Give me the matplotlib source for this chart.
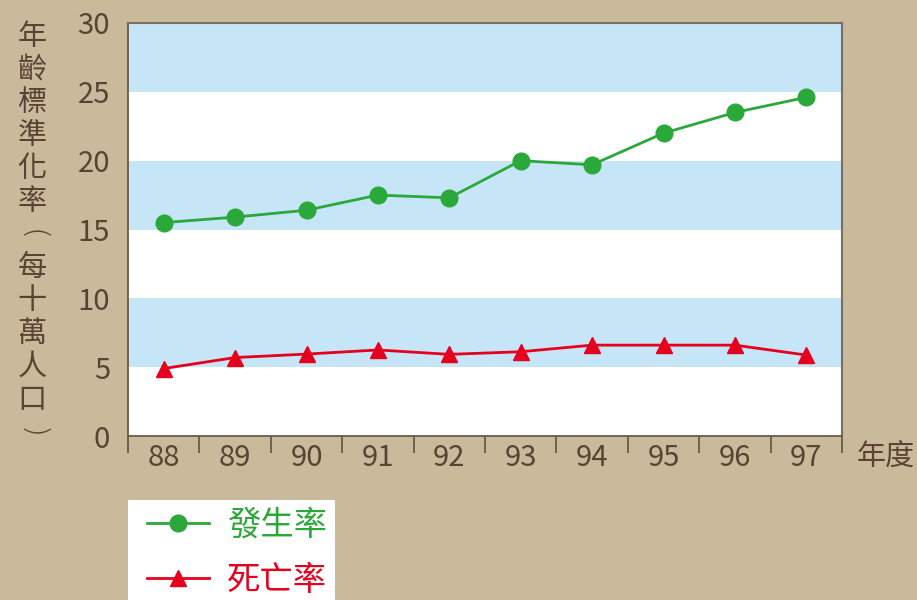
import numpy as np
import matplotlib.pyplot as plt
from matplotlib.ticker import FixedLocator
from matplotlib.patches import Rectangle

plt.rcParams['font.family'] = ['Noto Sans CJK TC', 'DejaVu Sans']

years = ['88', '89', '90', '91', '92', '93', '94', '95', '96', '97']
incidence = [15.5, 15.9, 16.4, 17.5, 17.3, 20.0, 19.7, 22.0, 23.5, 24.6]
mortality = [4.9, 5.7, 5.95, 6.25, 5.93, 6.12, 6.6, 6.6, 6.6, 5.88]
ylabel_chars = ['年', '齡', '標', '準', '化', '率', '(', '每', '十', '萬', '人', '口', ')']

bg = '#c9ba9b'
band = '#c6e6f8'
txt = '#5a4332'
green = '#2ba83a'
red = '#e5001e'

fig = plt.figure(figsize=(9.17, 6.0), dpi=100, facecolor=bg)
ax = fig.add_axes([128/917, 1-436/600, 714/917, 413/600])
ax.set_facecolor('white')

x = np.arange(len(years))
for lo in np.arange(5, 30, 10):
    ax.axhspan(lo, lo+5, color=band, lw=0, zorder=0)

ax.plot(x, incidence, '-o', color=green, lw=2.0, ms=12, label='發生率', zorder=3)
ax.plot(x, mortality, '-^', color=red, lw=2.0, ms=12, label='死亡率', zorder=3)

ax.set_xlim(-0.5, len(years)-0.5)
ax.set_ylim(0, 30)
ax.set_yticks(np.arange(0, 31, 5))
ax.tick_params(axis='y', length=0, pad=13, labelsize=21, labelcolor=txt)

ax.xaxis.set_major_locator(FixedLocator(np.arange(-0.5, len(years), 1)))
ax.xaxis.set_major_formatter(plt.NullFormatter())
ax.xaxis.set_minor_locator(FixedLocator(x))
ax.set_xticklabels(years, minor=True)
ax.tick_params(axis='x', which='major', length=12, width=1.3, color='#6b5a48', direction='out')
ax.tick_params(axis='x', which='minor', length=0, pad=5, labelsize=21, labelcolor=txt)

for s in ['left', 'bottom']:
    ax.spines[s].set_color('#6b5a48')
    ax.spines[s].set_linewidth(1.3)
for s in ['top', 'right']:
    ax.spines[s].set_color('#7a6e62')
    ax.spines[s].set_linewidth(1.5)

fig.text(886/917, 1-457/600, '年度', fontsize=21, color=txt, ha='center', va='center')
for i, ch in enumerate(ylabel_chars):
    if ch in '()':
        # vertical-text brackets: rotate so they open down / up
        fig.text(32/917, 1-(37+33.0*i)/600, ch, fontsize=22, color=txt, ha='center', va='center',
                 rotation=-90, family='DejaVu Sans', fontweight='light')
    else:
        fig.text(32/917, 1-(37+33.0*i)/600, ch, fontsize=21, color=txt, ha='center', va='center')

fig.patches.append(Rectangle((128/917, 0), (335-128)/917, 1-500/600, transform=fig.transFigure,
                             facecolor='white', edgecolor='none', zorder=1))
leg = fig.legend(loc='upper left', bbox_to_anchor=(147/917, 1-508/600), borderaxespad=0,
                 frameon=False, fontsize=24, handlelength=1.85, handletextpad=0.55,
                 labelspacing=0.6, borderpad=0, labelcolor='linecolor')
leg.set_zorder(2)

fig.savefig('out.png', dpi=100, facecolor=bg)
